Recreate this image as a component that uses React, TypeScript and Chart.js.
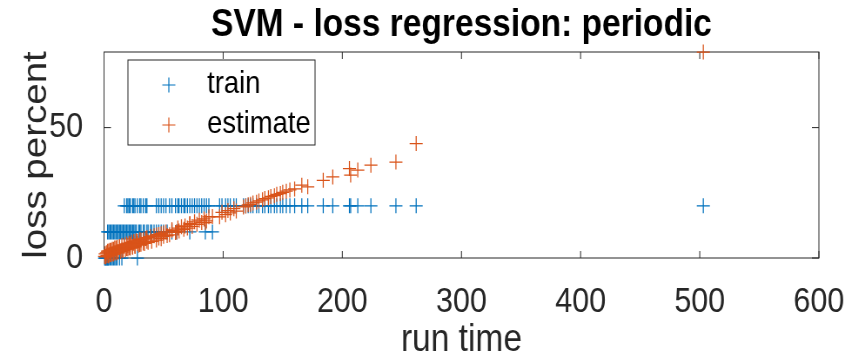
import React, { useEffect, useRef } from "react";
import { Chart, registerables } from "chart.js";

Chart.register(...registerables);

// ---- text ----
const TITLE = "SVM - loss regression: periodic";
const X_LABEL = "run time";
const Y_LABEL = "loss percent";
const SERIES_NAMES = ["train", "estimate"];

// ---- axes ----
const X_RANGE = [0, 600];
const Y_RANGE = [0, 79];
const X_TICKS = [0, 100, 200, 300, 400, 500, 600];
const Y_TICKS = [0, 50];

// ---- data: runs grouped by their train loss level ----
const TRAIN_LEVELS = [0, 10, 20];

const runTimeLoss0 = [0.5, 1, 1.5, 2, 2.5, 3, 3.5, 4, 5, 6, 7, 8, 9, 10, 11, 13, 15, 28];
const estimateLoss0 = [0.6, 1.6, 0.4, 2.0, 0.9, 2.3, 1.0, 2.7, 1.3, 3.0, 1.6, 3.4, 2.0, 3.8, 2.3, 4.0, 3.1, 5.6];

const runTimeLoss10 = [
  3, 4, 5, 6, 7, 8, 9, 10, 11, 12, 13, 14, 15, 16, 17, 18, 19, 20, 21, 22, 23, 24, 25, 26, 27,
  29, 30, 31, 33, 34, 36, 37, 39, 40, 42, 44, 46, 48, 50, 53, 57, 61, 72, 85, 91,
];
const estimateLoss10 = [
  2.6, 0.8, 3.0, 1.2, 3.4, 1.5, 3.8, 1.9, 4.1, 2.3, 4.4, 2.5, 4.8, 2.8, 5.0, 3.2, 5.4, 3.5, 5.7, 3.8,
  6.0, 4.1, 6.3, 4.4, 6.6, 4.9, 7.0, 5.3, 7.2, 5.6, 7.8, 6.0, 8.2, 6.4, 8.5, 6.9, 9.0, 7.4, 9.6, 8.6,
  10.6, 10.0, 12.9, 13.6, 15.9,
];

const runTimeLoss20 = [
  17, 19, 20, 21, 22, 24, 25, 26, 28, 30, 31, 33, 35, 36, 44, 46, 48, 50, 52, 55, 57, 60, 62, 63, 65,
  67, 68, 70, 72, 74, 76, 78, 80, 82, 84, 86, 88, 97, 99, 102, 104, 106, 109, 111, 117, 119, 121, 123,
  125, 128, 130, 133, 135, 138, 140, 143, 145, 148, 150, 153, 156, 160, 166, 171, 184, 192, 206, 207,
  213, 224, 245, 262, 503,
];
const estimateLoss20 = [
  4.5, 3.6, 4.8, 3.9, 5.2, 4.4, 5.7, 4.7, 6.3, 5.2, 6.9, 5.8, 7.5, 6.4, 8.8, 7.7, 9.3, 8.3, 10.0, 8.9,
  10.8, 9.8, 11.5, 10.4, 12.0, 11.0, 12.3, 11.5, 13.2, 12.1, 13.9, 12.9, 14.5, 13.6, 15.0, 14.2, 15.8,
  15.8, 17.5, 16.6, 18.2, 17.3, 18.9, 18.0, 19.6, 19.9, 20.4, 20.6, 21.1, 21.4, 21.9, 22.3, 22.8, 23.1,
  23.6, 23.9, 24.4, 24.7, 25.2, 25.6, 26.1, 26.5, 27.9, 27.3, 29.8, 31.1, 34.3, 31.8, 33.7, 35.6, 36.8,
  43.9, 79,
];

const RUN_TIMES = [runTimeLoss0, runTimeLoss10, runTimeLoss20];
const ESTIMATES = [estimateLoss0, estimateLoss10, estimateLoss20];

// ---- style ----
const BLUE = "#0072BD";
const ORANGE = "#D95319";
const AXIS = "#262626";
const FONT = '"Liberation Sans", Arial, Helvetica, sans-serif';
// drawing surface is wider than the display; the browser compresses it horizontally
const W = 994;
const H = 361;
const CSS_W = 865;
const PLOT_LEFT = 119.5;
const PLOT_RIGHT = 941;
const PLOT_TOP = 52;
const PLOT_BOTTOM = 258;

const decor = {
  id: "matlabDecor",
  beforeDatasetsDraw(chart: any) {
    const { ctx, chartArea: a, scales } = chart;
    const x = scales.x;
    const y = scales.y;
    ctx.save();
    ctx.strokeStyle = AXIS;
    ctx.lineWidth = 1;
    ctx.strokeRect(a.left, a.top, a.right - a.left, a.bottom - a.top);
    ctx.beginPath();
    for (const v of X_TICKS) {
      const px = x.getPixelForValue(v);
      ctx.moveTo(px, a.bottom);
      ctx.lineTo(px, a.bottom - 7);
      ctx.moveTo(px, a.top);
      ctx.lineTo(px, a.top + 7);
    }
    for (const v of Y_TICKS) {
      const py = y.getPixelForValue(v);
      ctx.moveTo(a.left, py);
      ctx.lineTo(a.left + 8, py);
      ctx.moveTo(a.right, py);
      ctx.lineTo(a.right - 8, py);
    }
    ctx.stroke();

    const cx = (a.left + a.right) / 2;
    ctx.textAlign = "center";
    ctx.textBaseline = "alphabetic";
    ctx.fillStyle = "#000000";
    ctx.font = `bold 38.5px ${FONT}`;
    ctx.fillText(TITLE, cx, 36);

    ctx.fillStyle = AXIS;
    ctx.font = `38.5px ${FONT}`;
    ctx.fillText(X_LABEL, cx, 351);

    ctx.translate(52.5, (a.top + a.bottom) / 2);
    ctx.rotate(-Math.PI / 2);
    ctx.fillText(Y_LABEL, 0, 0);
    ctx.restore();
  },
  afterDatasetsDraw(chart: any) {
    const { ctx } = chart;
    ctx.save();
    const box = { left: 147, top: 60, right: 362, bottom: 145 };
    ctx.fillStyle = "#ffffff";
    ctx.fillRect(box.left, box.top, box.right - box.left, box.bottom - box.top);
    ctx.strokeStyle = AXIS;
    ctx.lineWidth = 1;
    ctx.strokeRect(box.left, box.top, box.right - box.left, box.bottom - box.top);
    const colors = [BLUE, ORANGE];
    const rowsY = [85, 125];
    const markerX = 194;
    SERIES_NAMES.forEach((name, i) => {
      const ym = rowsY[i];
      ctx.strokeStyle = colors[i];
      ctx.lineWidth = 1.2;
      ctx.beginPath();
      ctx.moveTo(markerX - 7.5, ym);
      ctx.lineTo(markerX + 7.5, ym);
      ctx.moveTo(markerX, ym - 7.5);
      ctx.lineTo(markerX, ym + 7.5);
      ctx.stroke();
      ctx.fillStyle = "#000000";
      ctx.font = `31.5px ${FONT}`;
      ctx.textAlign = "left";
      ctx.textBaseline = "alphabetic";
      ctx.fillText(name, 238, ym + 7.5);
    });
    ctx.restore();
  },
};

export default function App() {
  const canvasRef = useRef<HTMLCanvasElement | null>(null);

  useEffect(() => {
    const canvas = canvasRef.current;
    if (!canvas) return;

    const trainPoints: { x: number; y: number }[] = [];
    const estimatePoints: { x: number; y: number }[] = [];
    TRAIN_LEVELS.forEach((level, g) => {
      RUN_TIMES[g].forEach((t, i) => {
        trainPoints.push({ x: t, y: level });
        estimatePoints.push({ x: t, y: ESTIMATES[g][i] });
      });
    });

    const chart = new Chart(canvas, {
      type: "scatter",
      data: {
        datasets: [
          {
            label: SERIES_NAMES[0],
            data: trainPoints,
            pointStyle: "cross",
            radius: 7.5,
            borderWidth: 1.25,
            borderColor: BLUE,
            backgroundColor: BLUE,
            clip: false as any,
            order: 1,
          },
          {
            label: SERIES_NAMES[1],
            data: estimatePoints,
            pointStyle: "cross",
            radius: 7.5,
            borderWidth: 1.25,
            borderColor: ORANGE,
            backgroundColor: ORANGE,
            clip: false as any,
            order: 0,
          },
        ],
      },
      options: {
        responsive: false,
        animation: false,
        devicePixelRatio: 1,
        layout: {
          padding: { left: 0, top: PLOT_TOP, right: W - PLOT_RIGHT, bottom: 0 },
        },
        plugins: {
          legend: { display: false },
          title: { display: false },
          tooltip: { enabled: false },
        },
        scales: {
          x: {
            type: "linear",
            min: X_RANGE[0],
            max: X_RANGE[1],
            afterFit: (s: any) => {
              s.height = H - PLOT_BOTTOM;
            },
            afterBuildTicks: (s: any) => {
              s.ticks = X_TICKS.map((v) => ({ value: v }));
            },
            ticks: {
              color: AXIS,
              font: { family: FONT, size: 35 },
              padding: 15,
              maxRotation: 0,
              autoSkip: false,
            },
            grid: { display: false },
            border: { display: false },
          },
          y: {
            type: "linear",
            min: Y_RANGE[0],
            max: Y_RANGE[1],
            afterFit: (s: any) => {
              s.width = PLOT_LEFT;
            },
            afterBuildTicks: (s: any) => {
              s.ticks = Y_TICKS.map((v) => ({ value: v }));
            },
            ticks: {
              color: AXIS,
              font: { family: FONT, size: 35 },
              padding: 16,
              autoSkip: false,
            },
            grid: { display: false },
            border: { display: false },
          },
        },
      },
      plugins: [decor],
    });

    return () => chart.destroy();
  }, []);

  return (
    <div style={{ position: "fixed", left: 0, top: 0, width: CSS_W, height: H, background: "#fff" }}>
      <canvas
        ref={canvasRef}
        width={W}
        height={H}
        style={{ display: "block", width: `${CSS_W}px`, height: `${H}px` }}
      />
    </div>
  );
}
